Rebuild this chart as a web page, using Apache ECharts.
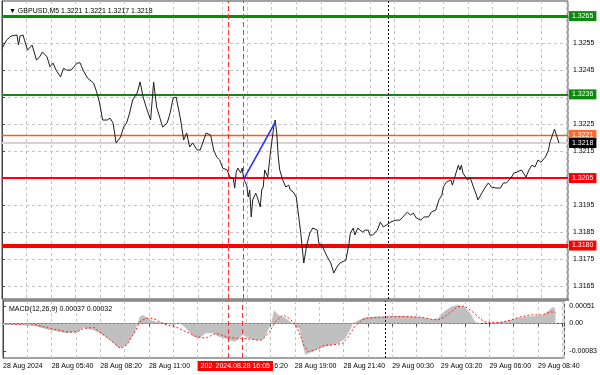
<!DOCTYPE html>
<html><head><meta charset="utf-8">
<script src="https://cdn.jsdelivr.net/npm/echarts@6/dist/echarts.min.js"></script>
<style>html,body{margin:0;padding:0;background:#fff}#c{width:600px;height:375px}</style>
</head><body><div id="c"></div>
<script>
// ---- header texts ----
const symbolHeader = 'GBPUSD,M5';
const ohlc = ['1.3221', '1.3221', '1.3217', '1.3218'];
const macdHeader = 'MACD(12,26,9)';
const macdLast = ['0.00037', '0.00032'];

// ---- x axis (bar index, M5 bars) ----
const xTickLabels = ['28 Aug 2024', '28 Aug 05:40', '28 Aug 08:20', '28 Aug 11:00', '', '28 Aug 16:20',
  '28 Aug 19:00', '28 Aug 21:40', '29 Aug 00:30', '29 Aug 03:20', '29 Aug 06:00', '29 Aug 08:40'];

// ---- price line (bar index, close) ----
const priceBars = [0,3,6,10,11,12,14,15,17,20,21,23,25,27,30,32,34,36,39,41,43,46,50,52,54,57,61,63,65,67,70,72,74,76,79,81,83,85,87,90,92,94,96,99,101,103,105,107,110,112,114,116,119,121,123,125,127,130,132,136,139,141,143,145,147,150,152,154,155,156,157,159,160,161,163,164,165,166,167,169,170,172,173,174,175,176,177,179,181,182,183,184,185,187,189,191,192,194,196,199,201,203,205,207,210,211,213,216,219,221,223,225,229,231,232,234,235,237,240,242,244,245,247,250,252,254,256,259,262,265,267,270,272,274,276,279,281,284,286,289,291,293,294,296,299,300,301,303,304,305,306,307,310,312,314,316,317,320,322,324,326,329,332,334,336,339,341,343,346,349,351,353,355,357,359,362,364,365,368,371];
const prices = [1.32530,1.32561,1.32576,1.32580,1.32543,1.32576,1.32580,1.32561,1.32524,1.32543,1.32550,1.32487,1.32499,1.32517,1.32499,1.32462,1.32476,1.32450,1.32425,1.32457,1.32450,1.32450,1.32476,1.32477,1.32450,1.32420,1.32402,1.32370,1.32328,1.32265,1.32265,1.32272,1.32254,1.32180,1.32202,1.32239,1.32254,1.32291,1.32339,1.32365,1.32406,1.32350,1.32313,1.32265,1.32406,1.32313,1.32276,1.32239,1.32254,1.32291,1.32346,1.32350,1.32265,1.32191,1.32217,1.32165,1.32180,1.32154,1.32154,1.32217,1.32209,1.32154,1.32128,1.32117,1.32087,1.32080,1.32050,1.32050,1.32013,1.32072,1.32087,1.32069,1.32087,1.32046,1.32024,1.31980,1.32006,1.31906,1.31969,1.31994,1.31980,1.31943,1.32006,1.32017,1.32080,1.32087,1.32054,1.32154,1.32239,1.32265,1.32217,1.32128,1.32080,1.32043,1.32017,1.32024,1.32006,1.31998,1.31980,1.31846,1.31735,1.31802,1.31846,1.31865,1.31857,1.31809,1.31802,1.31765,1.31735,1.31698,1.31720,1.31735,1.31746,1.31802,1.31846,1.31865,1.31839,1.31865,1.31850,1.31857,1.31857,1.31839,1.31839,1.31857,1.31887,1.31869,1.31876,1.31887,1.31894,1.31894,1.31906,1.31924,1.31913,1.31920,1.31902,1.31894,1.31906,1.31906,1.31924,1.31932,1.31969,1.31987,1.32017,1.32035,1.32043,1.32024,1.32043,1.32080,1.32098,1.32080,1.32098,1.32069,1.32043,1.32050,1.32017,1.31987,1.31969,1.31998,1.32017,1.32032,1.32017,1.32013,1.32013,1.32032,1.32032,1.32050,1.32069,1.32072,1.32080,1.32054,1.32080,1.32098,1.32091,1.32117,1.32109,1.32128,1.32154,1.32183,1.32231,1.32180];

// ---- trend line (blue) ----
const trendBars = [161, 182];
const trendPrices = [1.32046, 1.32257];

// ---- horizontal levels ----
const levelValues = [1.3265, 1.3236, 1.3221, 1.3218, 1.3205, 1.3180];
const levelLabels = ['1.3265', '1.3236', '1.3221', '1.3218', '1.3205', '1.3180'];

// ---- price axis ticks ----
const yTickValues = [1.3165, 1.3175, 1.3185, 1.3195, 1.3205, 1.3215, 1.3225, 1.3235, 1.3245, 1.3255, 1.3265];
const yLabelValues = [1.3165, 1.3175, 1.3185, 1.3195, 1.3215, 1.3225, 1.3245, 1.3255];

// ---- MACD ----
const macdBars = [0,10,21,32,43,50,54,61,65,72,78,83,88,92,94,99,103,110,114,119,123,128,132,136,141,145,152,156,161,168,174,176,180,182,185,190,194,199,201,203,208,212,216,221,225,230,233,235,239,243,250,256,265,274,281,288,292,296,301,305,310,314,317,321,327,332,339,345,352,359,363,368,370,371];
const macdValues = [-0.00005,-0.00005,-0.00008,-0.00020,-0.00029,-0.00025,-0.00012,-0.00020,-0.00029,-0.00049,-0.00074,-0.00064,-0.00029,0.00020,0.00025,0.00010,0.00005,0.00000,-0.00005,0.00000,-0.00015,-0.00039,-0.00044,-0.00029,-0.00029,-0.00039,-0.00049,-0.00054,-0.00034,-0.00049,-0.00049,-0.00039,0.00000,0.00039,0.00025,0.00015,0.00000,-0.00015,-0.00059,-0.00093,-0.00083,-0.00074,-0.00069,-0.00064,-0.00059,-0.00044,-0.00020,0.00000,0.00010,0.00018,0.00020,0.00020,0.00022,0.00020,0.00018,0.00012,0.00015,0.00034,0.00049,0.00054,0.00049,0.00029,0.00005,0.00000,0.00000,0.00003,0.00008,0.00015,0.00020,0.00022,0.00025,0.00044,0.00049,0.00037];
const signalBars = [0,10,16,21,32,43,50,54,61,65,72,79,83,88,92,96,101,105,110,116,123,130,136,143,150,156,163,170,174,179,183,188,192,196,199,202,205,210,216,221,228,232,236,241,245,254,263,272,281,288,292,296,301,305,310,314,319,323,327,334,341,348,355,362,368,371];
const signalValues = [0.00000,-0.00003,0.00000,-0.00003,-0.00015,-0.00025,-0.00025,-0.00015,-0.00012,-0.00025,-0.00049,-0.00074,-0.00064,-0.00029,0.00005,0.00015,0.00015,0.00005,-0.00005,-0.00010,-0.00025,-0.00039,-0.00044,-0.00029,-0.00039,-0.00044,-0.00044,-0.00049,-0.00049,-0.00025,0.00005,0.00025,0.00015,0.00000,-0.00029,-0.00064,-0.00083,-0.00078,-0.00064,-0.00064,-0.00059,-0.00039,-0.00010,0.00010,0.00015,0.00018,0.00020,0.00020,0.00018,0.00012,0.00010,0.00018,0.00034,0.00049,0.00051,0.00039,0.00020,0.00005,0.00003,0.00003,0.00010,0.00020,0.00025,0.00025,0.00034,0.00032];
const macdTickValues = [0.00051, 0, -0.00083];
const macdTickLabels = ['0.00051', '0.00', '-0.00083'];

// ---- vertical lines ----
const vLineBars = [151, 161];
const vLineLabels = ['2024.08.28 15:15', '2024.08.28 16:05'];
const separatorBar = 257;

// ================= styling / layout =================
const FONT = 'Liberation Sans';
const FS = 7;
const X_STEP = 16.3333;
const X_MAX = 377;
const levelStyle = [
  { color: '#0e8a0e', width: 3, bg: '#0e8a0e' },
  { color: '#0e8a0e', width: 2, bg: '#0e8a0e' },
  { color: '#ff5a1a', width: 1.3, bg: '#ff6a26' },
  { color: '#d4d4d4', width: 2, bg: '#000000' },
  { color: '#ff0000', width: 2, bg: '#ff0000' },
  { color: '#ff0000', width: 4, bg: '#ff0000' }
];

const pair = (xs, ys) => xs.map((x, i) => [x, ys[i]]);
const xFmt = v => {
  const i = Math.round(v / X_STEP);
  if (Math.abs(v - i * X_STEP) > 0.05 || i % 2) return '';
  return xTickLabels[i / 2] || '';
};

const redDash = { color: '#ff3030', type: [5, 3], width: 1 };
const sepStyle = { color: '#000', type: [2, 2], width: 1 };

const chart = echarts.init(document.getElementById('c'), null, { renderer: 'canvas' });
chart.setOption({
  animation: false,
  backgroundColor: '#fff',
  title: [
    { text: '▼ ' + symbolHeader + ' ' + ohlc.join(' '), left: 4, top: 3,
      textStyle: { fontFamily: FONT, fontSize: FS, fontWeight: 'normal', color: '#000' } },
    { text: macdHeader + ' ' + macdLast.join(' '), left: 4, top: 301,
      textStyle: { fontFamily: FONT, fontSize: FS, fontWeight: 'normal', color: '#000' } }
  ],
  graphic: [
    { type: 'rect', left: 2, top: 299, shape: { width: 567, height: 2 }, style: { fill: '#8a8a8a' }, z: 100 }
  ],
  grid: [
    { left: 2, right: 32, top: 1, height: 298, show: true, borderColor: '#444', borderWidth: 1, backgroundColor: '#fff' },
    { left: 2, right: 32, top: 301, height: 57, show: true, borderColor: '#444', borderWidth: 1, backgroundColor: '#fff' }
  ],
  xAxis: [
    { type: 'value', gridIndex: 0, min: 0, max: X_MAX, interval: X_STEP,
      axisLine: { show: false }, axisTick: { show: false }, axisLabel: { show: false },
      splitLine: { show: true, lineStyle: { color: '#c4c4c4', type: [3, 3], width: 1 } } },
    { type: 'value', gridIndex: 1, min: 0, max: X_MAX, interval: X_STEP,
      axisLine: { show: true, lineStyle: { color: '#444' } },
      axisTick: { show: true, length: 3, lineStyle: { color: '#444' } },
      axisLabel: { show: true, formatter: xFmt, align: 'left', margin: 5, showMinLabel: true, showMaxLabel: true,
        fontFamily: FONT, fontSize: FS, color: '#000' },
      splitLine: { show: true, lineStyle: { color: '#c4c4c4', type: [3, 3], width: 1 } } }
  ],
  yAxis: [
    { type: 'value', gridIndex: 0, position: 'right', min: 1.31602, max: 1.32706, scale: true,
      axisLine: { show: true, lineStyle: { color: '#444' } },
      axisTick: { show: true, length: 3, customValues: yTickValues, lineStyle: { color: '#444' } },
      axisLabel: { show: true, customValues: yLabelValues, formatter: v => v.toFixed(4), margin: 5,
        fontFamily: FONT, fontSize: FS, color: '#000' },
      splitLine: { show: true, lineStyle: { color: '#c4c4c4', type: [3, 3], width: 1 } } },
    { type: 'value', gridIndex: 1, position: 'right', min: -0.00102, max: 0.00066,
      axisLine: { show: true, lineStyle: { color: '#444' } },
      axisTick: { show: true, length: 3, customValues: macdTickValues, lineStyle: { color: '#444' } },
      axisLabel: { show: true, customValues: macdTickValues, margin: 5,
        formatter: v => { const k = macdTickValues.findIndex(t => Math.abs(t - v) < 1e-9); return k >= 0 ? macdTickLabels[k] : ''; },
        fontFamily: FONT, fontSize: FS, color: '#000' },
      splitLine: { show: false } }
  ],
  series: [
    { type: 'line', name: 'price', xAxisIndex: 0, yAxisIndex: 0, data: pair(priceBars, prices),
      showSymbol: false, lineStyle: { color: '#1e1e1e', width: 1 }, z: 5,
      markLine: { silent: true, symbol: 'none', animation: false, precision: 6,
        data: [
          ...levelValues.map((v, i) => ({ yAxis: v,
            lineStyle: { color: levelStyle[i].color, width: levelStyle[i].width, type: 'solid' },
            label: { show: true, position: 'end', distance: 1, formatter: levelLabels[i],
              backgroundColor: levelStyle[i].bg, color: '#fff', padding: [2, 3, 1, 3],
              fontFamily: FONT, fontSize: FS } })),
          ...vLineBars.map(b => ({ xAxis: b, lineStyle: redDash, label: { show: false } })),
          { xAxis: separatorBar, lineStyle: sepStyle, label: { show: false } }
        ] } },
    { type: 'line', name: 'trend', xAxisIndex: 0, yAxisIndex: 0, data: pair(trendBars, trendPrices),
      showSymbol: false, lineStyle: { color: '#1a2cff', width: 1.5 }, z: 6 },
    { type: 'line', name: 'macd', xAxisIndex: 1, yAxisIndex: 1, data: pair(macdBars, macdValues),
      showSymbol: false, lineStyle: { width: 0, opacity: 0 }, areaStyle: { color: '#c0c0c0', opacity: 1 }, z: 3,
      markLine: { silent: true, symbol: 'none', animation: false, precision: 8,
        data: [
          { yAxis: 0, lineStyle: { color: '#a8a8a8', type: [2, 2], width: 1 }, label: { show: false } },
          { xAxis: separatorBar, lineStyle: sepStyle, label: { show: false } },
          ...vLineBars.map((b, i) => ({ xAxis: b, lineStyle: redDash,
            label: { show: true, position: 'start', distance: 3, formatter: vLineLabels[i],
              backgroundColor: '#ff0000', color: '#fff', padding: [2, 3, 1, 3], fontFamily: FONT, fontSize: FS } }))
        ] } },
    { type: 'line', name: 'signal', xAxisIndex: 1, yAxisIndex: 1, data: pair(signalBars, signalValues),
      showSymbol: false, lineStyle: { color: '#ff1a1a', width: 1, type: [2, 2] }, z: 4 }
  ]
});
</script>
</body></html>
